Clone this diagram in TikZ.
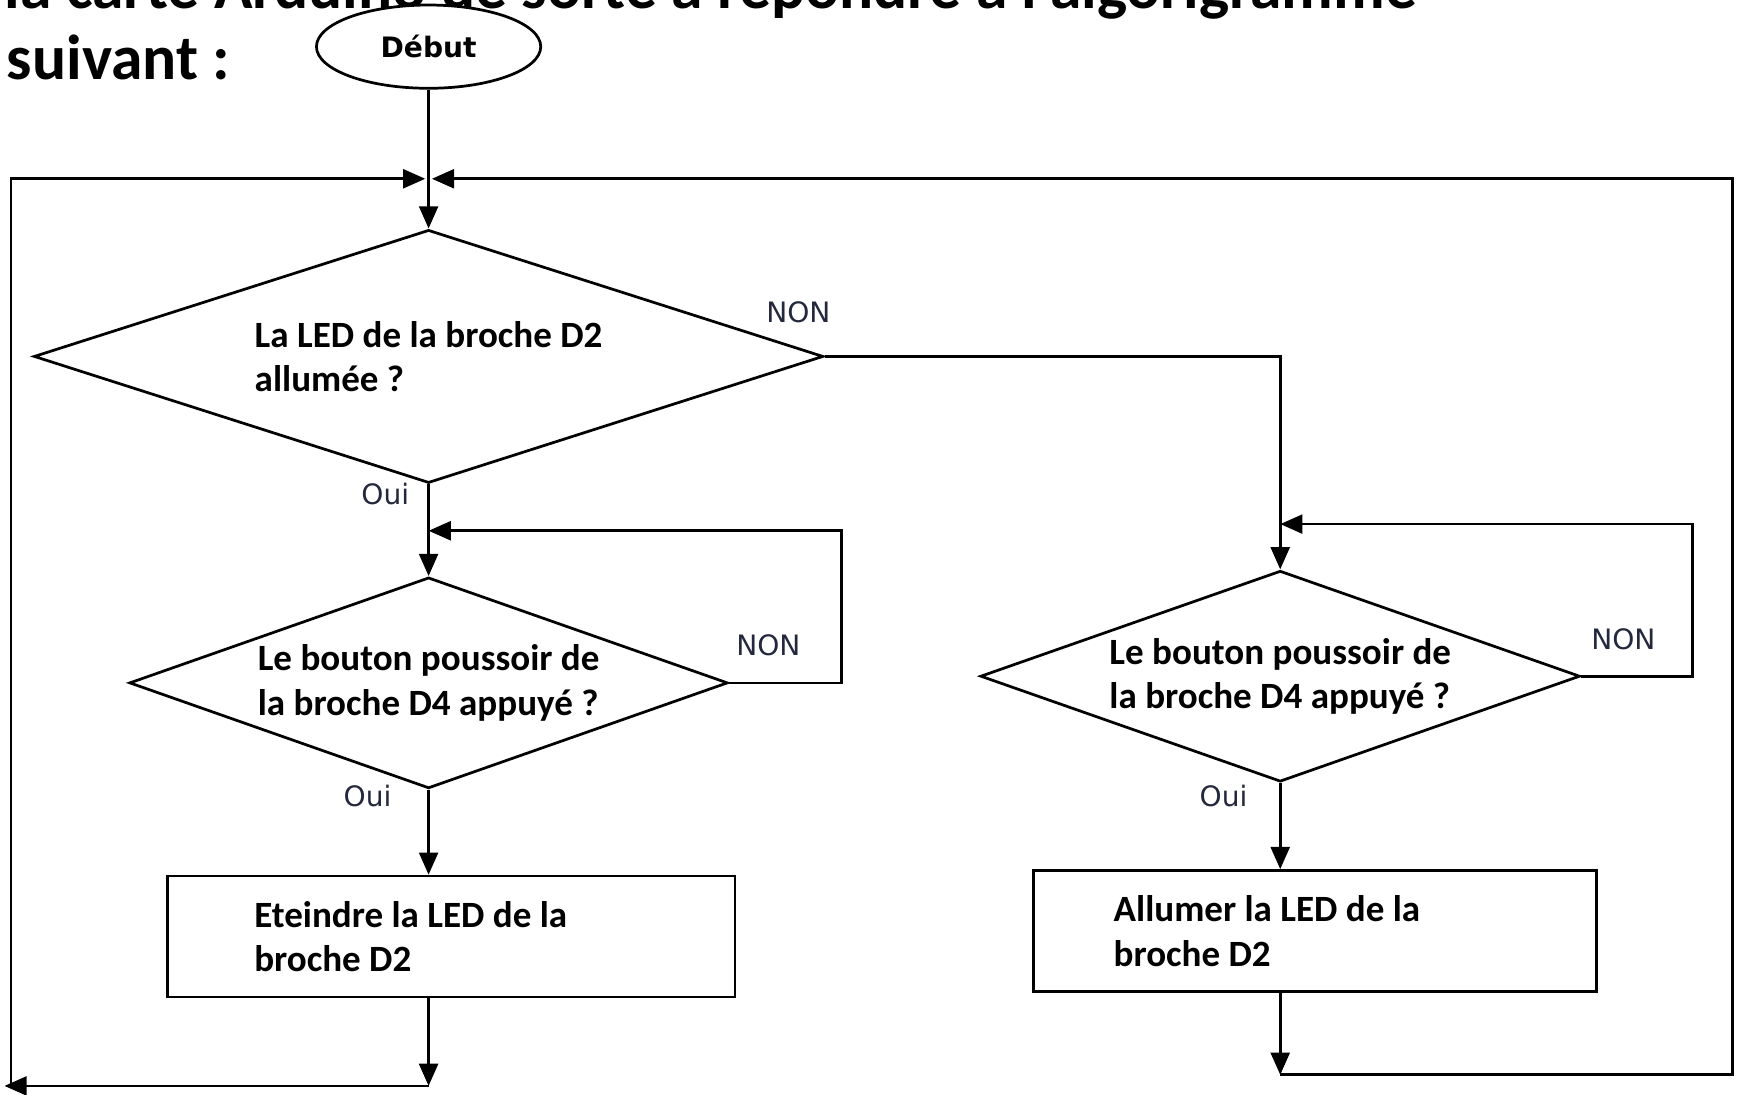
\documentclass[tikz,border=0pt]{standalone}
\usepackage{fontspec}
\setmainfont{Carlito}
\newfontfamily\labelfont{DejaVu Sans}
\usetikzlibrary{arrows.meta,positioning,shapes.geometric}
\definecolor{lblgray}{RGB}{35,40,60}

\begin{document}
\begin{tikzpicture}[
  line width=0.7pt,
  arr/.style={-{Triangle[length=0.2cm,width=0.17cm]}},
  test/.style={draw,diamond,inner sep=0pt,align=flush left,font=\bfseries\fontsize{9.5}{11.4}\selectfont},
  action/.style={draw,rectangle,inner ysep=0pt,minimum height=1.09cm,align=flush left,font=\bfseries\fontsize{9.5}{11.4}\selectfont},
  lbl/.style={font=\labelfont\fontsize{7.2}{8}\selectfont,text=lblgray,inner sep=0pt},
  heading/.style={anchor=base west,inner sep=0pt,font=\bfseries\fontsize{16.3}{18}\selectfont}
]
  % frame
  \useasboundingbox (0,0) rectangle (15.68,-9.86);
  \clip (0,0) rectangle (15.68,-9.86);

  % heading, cut at the top
  \node[heading] (head1) at (0.03,-0.08) {la carte Arduino de sorte à répondre à l'algorigramme};
  \node[heading] (head2) at (0.05,-0.72) {suivant :};

  % flowchart blocks
  \node[draw,ellipse,fill=white,minimum width=2.02cm,minimum height=0.75cm,
        font=\labelfont\bfseries\fontsize{7.2}{8}\selectfont] (start) at (3.86,-0.42) {Début};
  \node[test,aspect=3.12,minimum width=7.11cm,minimum height=2.28cm] (led) at (3.86,-3.21) {La LED de la broche D2\\allumée ?};
  \node[test,aspect=2.84,minimum width=5.39cm,minimum height=1.90cm] (btnL) at (3.86,-6.15) {Le bouton poussoir de\\la broche D4 appuyé ?};
  \node[test,aspect=2.84,minimum width=5.40cm,minimum height=1.90cm] (btnR) at (11.53,-6.09) {Le bouton poussoir de\\la broche D4 appuyé ?};
  \node[action,text width=3.55cm,inner xsep=0.78cm] (off) at (4.065,-8.435) {Eteindre la LED de la\\broche D2};
  \node[action,text width=3.63cm,inner xsep=0.72cm] (on) at (11.845,-8.385) {Allumer la LED de la\\broche D2};

  % corners of the loops
  \coordinate (jn) at (3.86,-1.61);
  \coordinate (backL) at (3.86,-4.78);
  \coordinate (backR) at (11.53,-4.72);
  \coordinate (endL) at (3.86,-9.78);
  \coordinate (tipL) at (0.04,-9.78);
  \coordinate (upL) at (0.10,-9.76);
  \coordinate (endR) at (11.53,-9.68);

  % connectors
  \draw[arr] (start.south) -- (led.north);
  \draw[arr] (led.south) -- (btnL.north);
  \draw[arr] (btnL.east) -- ++(1.01,0) |- (backL);
  \draw[arr] (btnL.south) -- (btnL.south |- off.north);
  \draw[arr] (off.south -| btnL.south) -- (endL);
  \draw[arr] (endL) -- (tipL);
  \draw[arr,shorten >=0.03cm] (upL) -- (0.10,-1.61) -- (jn);

  \draw[arr] (led.east) -| (btnR.north);
  \draw[arr] (btnR.east) -- ++(1.00,0) |- (backR);
  \draw[arr] (btnR.south) -- (btnR.south |- on.north);
  \draw[arr] (on.south -| btnR.south) -- (endR);
  \draw[arr,shorten >=0.03cm] (endR) -- (15.60,-9.68) -- (15.60,-1.61) -- (jn);

  % branch labels
  \node[lbl] (non1) at (7.19,-2.81) {NON};
  \node[lbl] (oui1) at (3.47,-4.45) {Oui};
  \node[lbl] (non2) at (6.92,-5.81) {NON};
  \node[lbl] (oui2) at (3.31,-7.17) {Oui};
  \node[lbl] (non3) at (14.62,-5.76) {NON};
  \node[lbl] (oui3) at (11.02,-7.17) {Oui};
\end{tikzpicture}
\end{document}
